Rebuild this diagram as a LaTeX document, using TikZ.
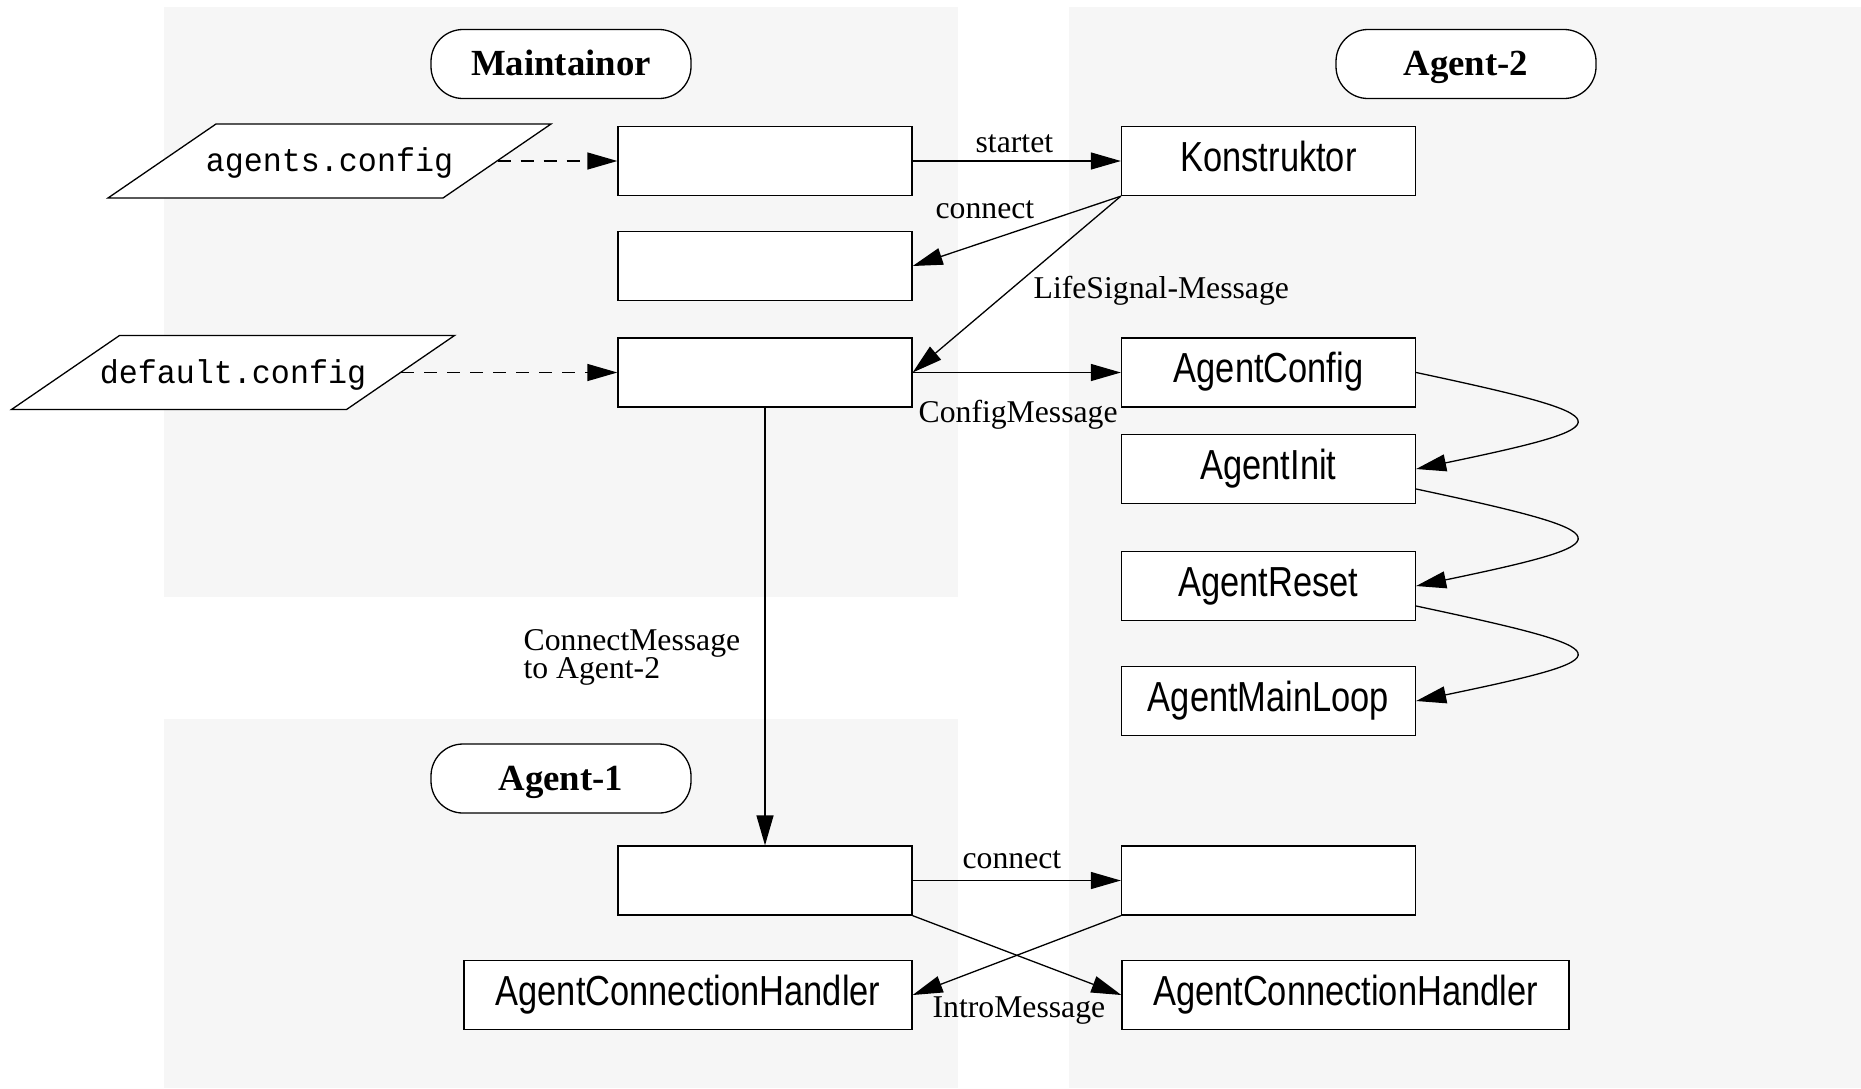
\documentclass[tikz,border=0pt]{standalone}
\usepackage{fontspec}
\setmainfont{Liberation Serif}
\newfontfamily\narrowsans[FakeStretch=0.82]{Liberation Sans}
\newfontfamily\typewriter[FakeStretch=0.96]{Liberation Mono}
\usetikzlibrary{arrows.meta,calc}
\definecolor{lanegray}{RGB}{246,246,246}

% two lines set with a fixed, tight baseline distance
\newcommand\twolines[2]{\vbox{\baselineskip=14.3pt\relax\lineskiplimit=-100pt\relax
  \hbox{#1}\hbox{#2}}}

\tikzset{
  lane/.style={fill=lanegray, draw=none},
  pill/.style={draw, fill=white, rounded corners=16pt, minimum width=130pt,
    minimum height=34.5pt, inner sep=0pt,
    font=\fontsize{18.4pt}{20pt}\selectfont\bfseries, text height=14pt, text depth=2.5pt},
  blk/.style={draw, fill=white, minimum height=34.5pt, minimum width=147pt, inner sep=0pt,
    font=\narrowsans\fontsize{21pt}{24pt}\selectfont, text height=15pt, text depth=5pt},
  file/.style={minimum width=167.5pt, minimum height=37pt, inner sep=0pt,
    font=\typewriter\fontsize{16.5pt}{18pt}\selectfont, text height=13pt, text depth=2.5pt},
  slanted/.style={draw, fill=white},
  lbl/.style={anchor=base west, inner sep=0pt, font=\fontsize{15.85pt}{18pt}\selectfont},
  arr/.style={-{Triangle[length=15pt,width=8.5pt]}},
  darr/.style={arr, dash pattern=on 6.5pt off 5pt},
}

\begin{document}
\begin{tikzpicture}[x=0.5pt, y=-0.5pt, line width=0.65pt]
\useasboundingbox (0,0) rectangle (1861,1088);

% swim lanes
\path[lane] (164,7) rectangle (958,597);
\path[lane] (164,719) rectangle (958,1088);
\path[lane] (1069,7) rectangle (1861,1088);

% lane titles
\node[pill] (maint) at (561,64) {Maintainor};
\node[pill] (agtwo) at (1466,64) {Agent-2};
\node[pill] (agone) at (561,778.5) {Agent-1};

% config files (parallelograms)
\coordinate (agc) at (329.5,161);
\coordinate (dfc) at (233,372.5);
\draw[slanted] ($(agc)+(-113.5,-37)$) -- ($(agc)+(221.5,-37)$) -- ($(agc)+(113.5,37)$) -- ($(agc)+(-221.5,37)$) -- cycle;
\draw[slanted] ($(dfc)+(-113.5,-37)$) -- ($(dfc)+(221.5,-37)$) -- ($(dfc)+(113.5,37)$) -- ($(dfc)+(-221.5,37)$) -- cycle;
\node[file] (agcfg) at (agc) {agents.config};
\node[file] (defcfg) at (dfc) {default.config};

% Maintainor blocks
\node[blk] (m1) at (765,161) {};
\node[blk] (m2) at (765,266) {};
\node[blk] (m3) at (765,372.5) {};

% Agent-2 blocks
\node[blk] (kon) at (1268.5,161) {Konstruktor};
\node[blk] (acfg) at (1268.5,372.5) {AgentConfig};
\node[blk] (ainit) at (1268.5,469) {AgentInit};
\node[blk] (areset) at (1268.5,586) {AgentReset};
\node[blk] (aloop) at (1268.5,701) {AgentMainLoop};
\node[blk] (b1) at (1268.5,880.5) {};
\node[blk, minimum width=223.5pt] (ach2) at (1345.5,995) {AgentConnectionHandler};

% Agent-1 blocks
\node[blk] (a1) at (765,880.5) {};
\node[blk, minimum width=224pt] (ach1) at (688,995) {AgentConnectionHandler};

% connectors
\draw[darr] (agcfg.east) -- (m1.west);
\draw[darr] (defcfg.east) -- (m3.west);
\draw[arr] (m1.east) -- (kon.west);
\draw[arr] (kon.south west) -- (m2.east);
\draw[arr] (kon.south west) -- (m3.east);
\draw[arr] (m3.east) -- (acfg.west);
\draw[arr] (m3.south) -- (a1.north);
\draw[arr] (acfg.east) .. controls +(211,45) and +(211,-44) .. (ainit.east);
\draw[arr] ([yshift=-10pt]ainit.east) .. controls +(211,45) and +(211,-44) .. (areset.east);
\draw[arr] ([yshift=-10pt]areset.east) .. controls +(211,45) and +(211,-44) .. (aloop.east);
\draw[arr] (a1.east) -- (b1.west);
\draw[arr] (a1.south east) -- (ach2.west);
\draw[arr] (b1.south west) -- (ach1.east);

% connector labels
\node[lbl] (lstart) at (975,152) {startet};
\node[lbl] (lconn) at (935,218) {connect};
\node[lbl] (llife) at (1033,298) {LifeSignal-Message};
\node[lbl] (lcfg) at (918,422) {ConfigMessage};
\node[lbl, anchor=north west] (lcm) at (523,628.6) {\twolines{ConnectMessage}{to Agent-2}};
\node[lbl] (lconn2) at (962,868) {connect};
\node[lbl] (lintro) at (932,1017) {IntroMessage};
\end{tikzpicture}
\end{document}
